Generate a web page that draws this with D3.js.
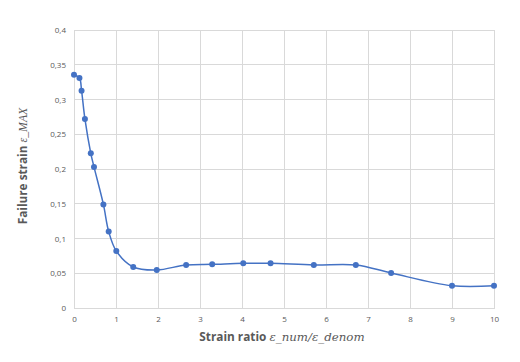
<!DOCTYPE html>
<html><head><meta charset="utf-8">
<script src="https://cdn.jsdelivr.net/npm/d3@7"></script>
<style>body{margin:0;background:#fff}svg{display:block}</style>
</head><body>
<svg id="c" width="520" height="362"></svg>
<script>
const strainRatio = [0, 0.13, 0.18, 0.26, 0.40, 0.476, 0.70, 0.826, 1.007, 1.41, 1.97, 2.67, 3.29, 4.03, 4.68, 5.71, 6.71, 7.55, 9.0, 10];
const failureStrain = [0.3357, 0.331, 0.3127, 0.272, 0.2226, 0.203, 0.149, 0.110, 0.082, 0.059, 0.0547, 0.0619, 0.0628, 0.0643, 0.0643, 0.0619, 0.0619, 0.0504, 0.032, 0.032];
const xTicks = [0,1,2,3,4,5,6,7,8,9,10];
const yTicks = [0,0.05,0.1,0.15,0.2,0.25,0.3,0.35,0.4];

const svg = d3.select("#c");
const x = d3.scaleLinear().domain([0,10]).range([74,494]);
const y = d3.scaleLinear().domain([0,0.4]).range([308,30]);
const fmt = v => String(v).replace(".", ",");

const grid = svg.append("g");
grid.selectAll("line.v").data(xTicks.slice(1)).join("line")
  .attr("x1", d=>x(d)).attr("x2", d=>x(d)).attr("y1", y(0)).attr("y2", y(0.4))
  .attr("stroke", "#d9d9d9").attr("stroke-width", 1).attr("shape-rendering","crispEdges");
grid.selectAll("line.h").data(yTicks.slice(1)).join("line")
  .attr("x1", x(0)).attr("x2", x(10)).attr("y1", d=>y(d)).attr("y2", d=>y(d))
  .attr("stroke", "#d9d9d9").attr("stroke-width", 1).attr("shape-rendering","crispEdges");

const xAxis = svg.append("g").attr("transform", `translate(0,${y(0)})`)
  .call(d3.axisBottom(x).tickValues(xTicks).tickFormat(fmt).tickSize(0).tickPadding(8));
const yAxis = svg.append("g").attr("transform", `translate(${x(0)},0)`)
  .call(d3.axisLeft(y).tickValues(yTicks).tickFormat(fmt).tickSize(0).tickPadding(8));
[xAxis, yAxis].forEach(a => {
  a.select(".domain").attr("stroke", "#d9d9d9").attr("shape-rendering","crispEdges");
  a.selectAll("text").attr("fill", "#595959").style("font-family", "'Open Sans', 'Liberation Sans', sans-serif").style("font-size", "8px");
});

const pts = strainRatio.map((v,i)=>[v, failureStrain[i]]);
svg.append("path").datum(pts)
  .attr("d", d3.line().x(d=>x(d[0])).y(d=>y(d[1])).curve(d3.curveCatmullRom.alpha(0.5)))
  .attr("fill","none").attr("stroke","#4472c4").attr("stroke-width",1.5);
svg.append("g").selectAll("circle").data(pts).join("circle")
  .attr("cx", d=>x(d[0])).attr("cy", d=>y(d[1])).attr("r", 3)
  .attr("fill","#4472c4");

// Axis titles
const xt = svg.append("text").attr("x", 282).attr("y", 341).attr("text-anchor","middle")
  .attr("fill","#595959");
xt.append("tspan").text("Strain ratio ").style("font-family","'Open Sans', sans-serif").style("font-weight","bold").style("font-size","11.8px");
xt.append("tspan").text("ε_num/ε_denom").style("font-family","'DejaVu Serif', 'Liberation Serif', serif").style("font-style","italic").style("font-size","11.8px");

const yt = svg.append("text").attr("transform","translate(27,166) rotate(-90)").attr("text-anchor","middle")
  .attr("fill","#595959");
yt.append("tspan").text("Failure strain ").style("font-family","'Open Sans', sans-serif").style("font-weight","bold").style("font-size","11.8px");
yt.append("tspan").text("ε_MAX").style("font-family","'Liberation Serif', serif").style("font-style","italic").style("font-size","11.8px");
</script>
</body></html>
